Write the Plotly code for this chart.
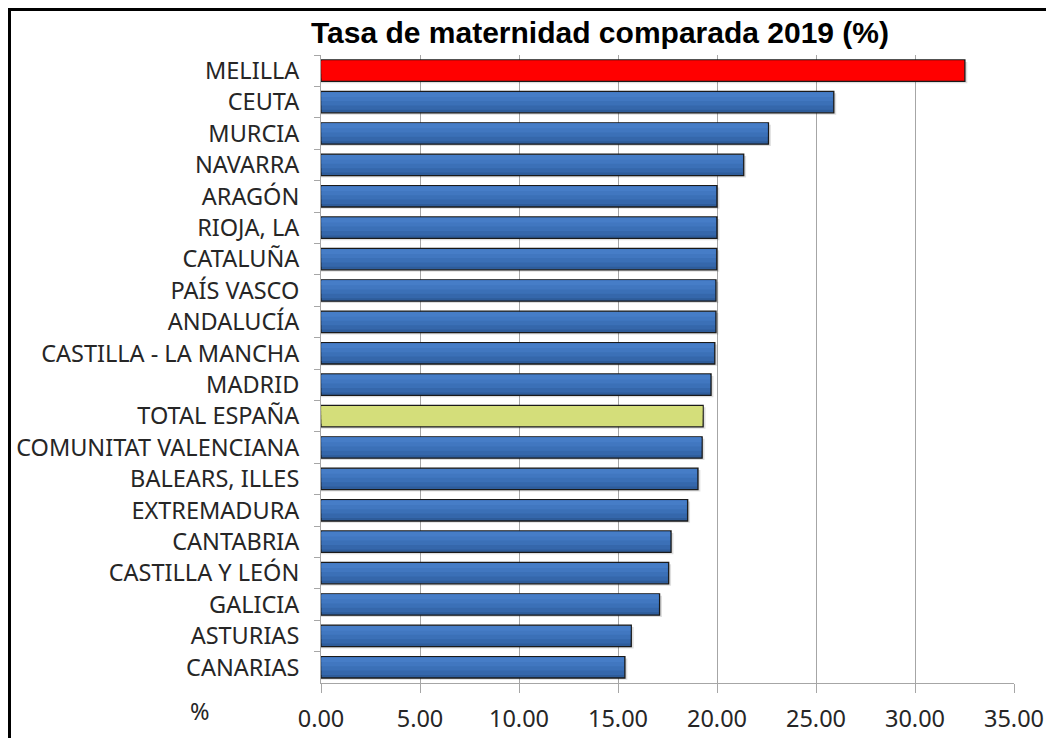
import plotly.graph_objects as go

regions = ["MELILLA", "CEUTA", "MURCIA", "NAVARRA", "ARAGÓN", "RIOJA, LA", "CATALUÑA",
           "PAÍS VASCO", "ANDALUCÍA", "CASTILLA - LA MANCHA", "MADRID", "TOTAL ESPAÑA",
           "COMUNITAT VALENCIANA", "BALEARS, ILLES", "EXTREMADURA", "CANTABRIA",
           "CASTILLA Y LEÓN", "GALICIA", "ASTURIAS", "CANARIAS"]
rates = [32.52, 25.90, 22.60, 21.35, 20.00, 20.00, 19.99, 19.95, 19.95, 19.89, 19.70, 19.30,
         19.25, 19.04, 18.52, 17.68, 17.56, 17.10, 15.67, 15.35]
x_ticks = [0, 5, 10, 15, 20, 25, 30, 35]
x_tick_labels = ["0.00", "5.00", "10.00", "15.00", "20.00", "25.00", "30.00", "35.00"]

SPECIAL = {"MELILLA": "#ff0000", "TOTAL ESPAÑA": "#d4de7a"}

# page body has an 8px offset; plot area in figure coordinates
L, R, T, B = 313, 1006, 47, 675
W, H = R - L, B - T
BW = 0.68

fig = go.Figure()
# soft shadow
fig.add_trace(go.Bar(
    y=regions, x=[v + 0.12 for v in rates], orientation="h",
    marker=dict(color="rgba(0,0,0,0.13)", line=dict(width=0)),
    width=BW, offset=-BW / 2 + 0.06, hoverinfo="skip", showlegend=False,
))
# base bar with outline
fig.add_trace(go.Bar(
    y=regions, x=rates, orientation="h",
    marker=dict(color=[SPECIAL.get(r, "#2e5c9a") for r in regions],
                line=dict(color="#1a1a1a", width=1.3)),
    width=BW, showlegend=False,
))
# gradient imitation: progressively lighter upper bands
bands = [(0.56, "#3567ab"), (0.42, "#3b70b7"), (0.28, "#4177c0"), (0.15, "#467dc7")]
for bw, col in bands:
    fig.add_trace(go.Bar(
        y=regions, x=[v - 0.08 for v in rates], base=0.03, orientation="h",
        marker=dict(color=[SPECIAL.get(r, col) for r in regions], line=dict(width=0)),
        width=bw, offset=-BW / 2 + 0.025, hoverinfo="skip", showlegend=False,
    ))

fig.update_layout(
    width=1054, height=738,
    margin=dict(l=L, r=1054 - R, t=T, b=738 - B),
    paper_bgcolor="white", plot_bgcolor="white",
    barmode="overlay",
    font=dict(family="Noto Sans", size=23.5, color="#262626"),
    title=dict(text="<b>Tasa de maternidad comparada 2019 (%)</b>",
               font=dict(family="Liberation Sans", size=30, color="black"),
               x=592 / 1054, xanchor="center", y=1 - 24 / 738, yanchor="middle"),
    xaxis=dict(range=[0, 35], tickvals=x_ticks, ticktext=x_tick_labels,
               showgrid=True, gridcolor="#a6a6a6", gridwidth=1,
               showline=True, linecolor="#a6a6a6", linewidth=1,
               ticks="outside", ticklen=9, tickcolor="#a6a6a6", automargin=False,
               zeroline=False, fixedrange=True, ticklabelstandoff=6),
    yaxis=dict(autorange="reversed", categoryorder="array", categoryarray=regions,
               showline=True, linecolor="#a6a6a6", linewidth=1, automargin=False,
               ticks="outside", ticklen=6, tickcolor="#a6a6a6", tickson="boundaries",
               showgrid=False, fixedrange=True, ticklabelstandoff=16),
    annotations=[dict(text="%", xref="paper", yref="paper",
                      x=(192 - L) / W, y=(B - 703) / H, xanchor="center", yanchor="middle",
                      showarrow=False, font=dict(family="Noto Sans", size=23.5, color="#262626"))],
    shapes=[dict(type="rect", xref="paper", yref="paper",
                 x0=(1.5 - L) / W, x1=(1070 - L) / W,
                 y0=(B - 760) / H, y1=(B - 1.5) / H,
                 line=dict(color="black", width=3), fillcolor="rgba(0,0,0,0)", layer="below")],
)

fig.write_html("out.html")
